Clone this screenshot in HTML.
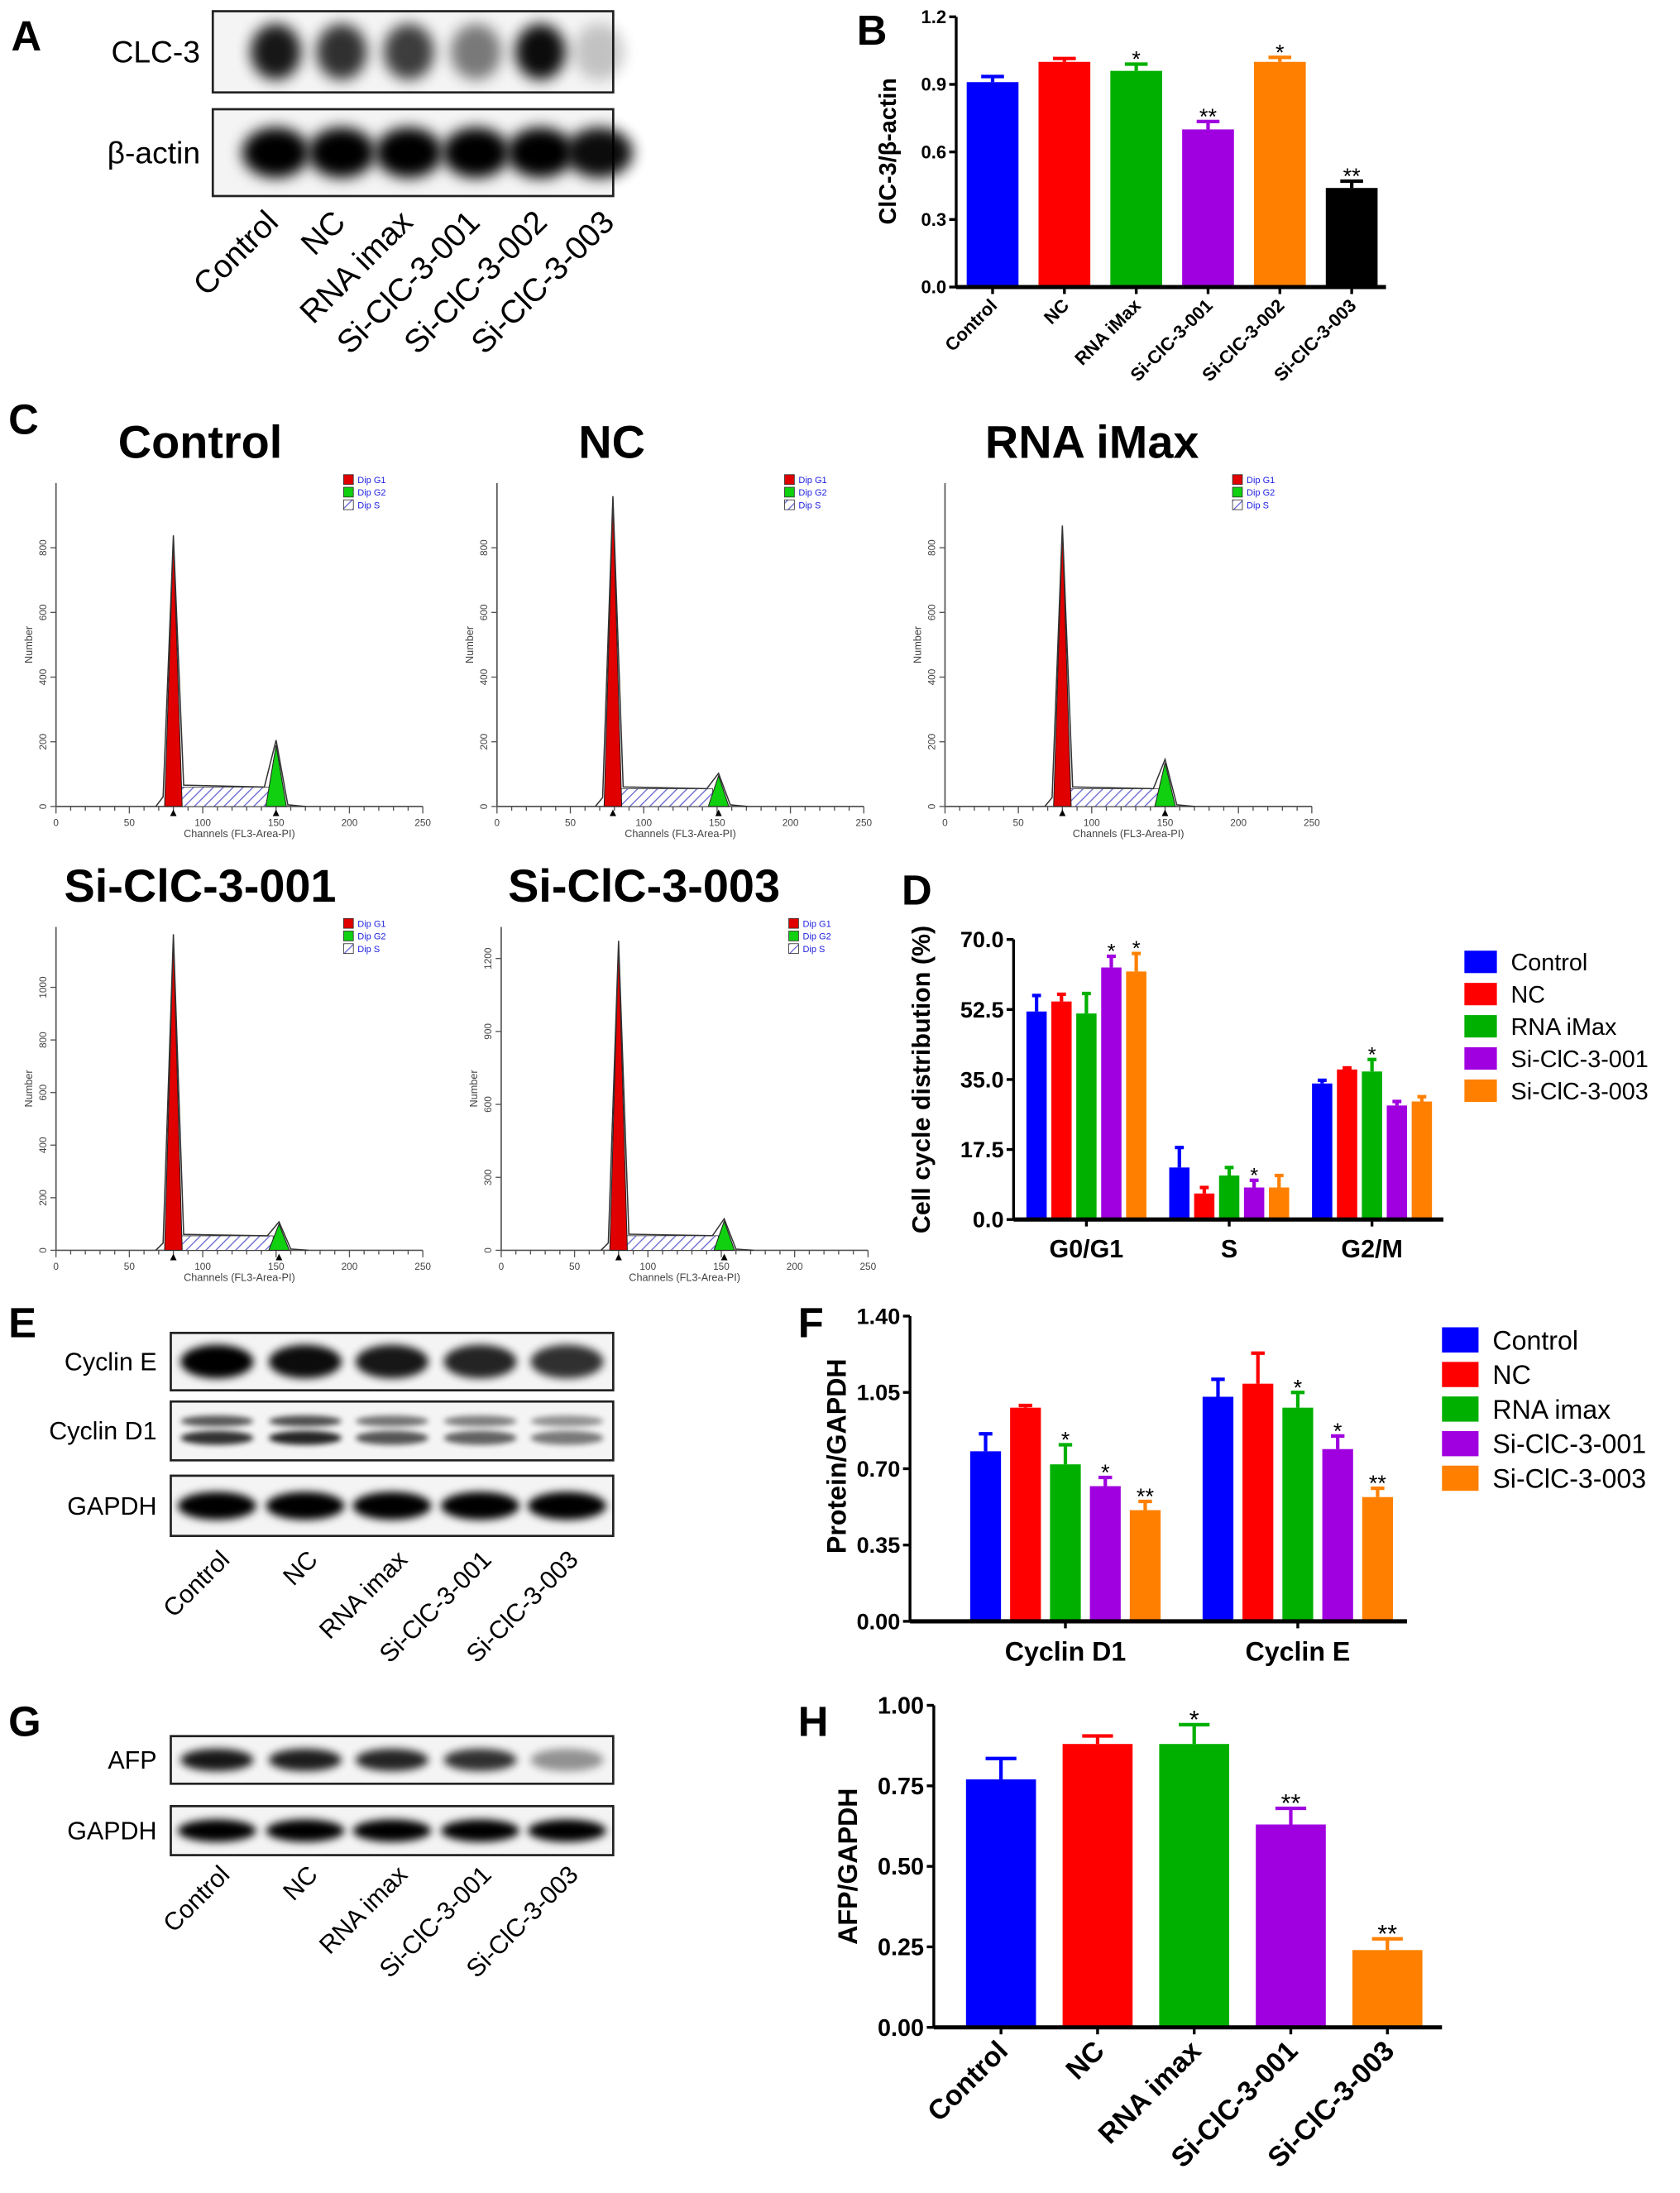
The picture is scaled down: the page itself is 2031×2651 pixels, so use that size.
<!DOCTYPE html>
<html><head><meta charset="utf-8">
<style>
html,body{margin:0;padding:0;background:#fff;}
svg{display:block;font-family:"Liberation Sans",Arial,sans-serif;}
</style></head>
<body>
<svg id="fig" width="2031" height="2651" viewBox="0 0 1200 1566.3" xmlns="http://www.w3.org/2000/svg">
<defs>
<filter id="blur3" x="-50%" y="-50%" width="200%" height="200%"><feGaussianBlur stdDeviation="3"/></filter>
<filter id="blur2" x="-50%" y="-50%" width="200%" height="200%"><feGaussianBlur stdDeviation="2"/></filter>
<filter id="blur5" x="-50%" y="-50%" width="200%" height="200%"><feGaussianBlur stdDeviation="5"/></filter>
<pattern id="hatch" width="5" height="5" patternUnits="userSpaceOnUse" patternTransform="rotate(45)"><rect width="5" height="5" fill="#fff"/><line x1="0" y1="0" x2="0" y2="5" stroke="#6a6ad0" stroke-width="1.6"/></pattern>
</defs>
</svg>
<script>
// ---------- DATA ----------
const bCategories = ['Control','NC','RNA iMax','Si-ClC-3-001','Si-ClC-3-002','Si-ClC-3-003'];
const bValues = [0.91,1.00,0.96,0.70,1.00,0.44];
const bErrors = [0.025,0.015,0.03,0.035,0.02,0.03];
const bStars = ['','','*','**','*','**'];
const bTicks = [0,0.3,0.6,0.9,1.2];

const dGroups = ['G0/G1','S','G2/M'];
const dSeries = ['Control','NC','RNA iMax','Si-ClC-3-001','Si-ClC-3-003'];
const dControl = [52,13,34];
const dNC = [54.5,6.5,37.5];
const dIMax = [51.5,11,37];
const dSi001 = [63,8,28.5];
const dSi003 = [62,8,29.5];
const dErrControl = [4,5,0.8];
const dErrNC = [1.8,1.5,0.4];
const dErrIMax = [5,2,3];
const dErrSi001 = [2.8,1.8,1];
const dErrSi003 = [4.5,3,1.2];
const dStars = [['','','','*','*'],['','','','*',''],['','','*','','']];
const dTicks = [0,17.5,35,52.5,70];

const fGroups = ['Cyclin D1','Cyclin E'];
const fSeries = ['Control','NC','RNA imax','Si-ClC-3-001','Si-ClC-3-003'];
const fControl = [0.78,1.03];
const fNC = [0.98,1.09];
const fIMax = [0.72,0.98];
const fSi001 = [0.62,0.79];
const fSi003 = [0.51,0.57];
const fErrControl = [0.08,0.08];
const fErrNC = [0.01,0.14];
const fErrIMax = [0.09,0.07];
const fErrSi001 = [0.04,0.06];
const fErrSi003 = [0.04,0.04];
const fStars = [['','','*','*','**'],['','','*','*','**']];
const fTicks = [0,0.35,0.70,1.05,1.40];

const hCategories = ['Control','NC','RNA imax','Si-ClC-3-001','Si-ClC-3-003'];
const hValues = [0.77,0.88,0.88,0.63,0.24];
const hErrors = [0.065,0.025,0.06,0.05,0.035];
const hStars = ['','','*','**','**'];
const hTicks = [0,0.25,0.5,0.75,1.0];

const histTitles = ['Control','NC','RNA iMax','Si-ClC-3-001','Si-ClC-3-003'];
const histG1Channel = [80,79,80,80,80];
const histG1Count = [830,950,860,1190,1260];
const histG2Channel = [150,151,150,152,152];
const histG2Count = [190,95,135,100,120];
const histSCount = [60,55,55,55,60];
const histYTicks = [[0,200,400,600,800],[0,200,400,600,800],[0,200,400,600,800],[0,200,400,600,800,1000],[0,300,600,900,1200]];
const histYMax = [1000,1000,1000,1230,1330];
const histXTicks = [0,50,100,150,200,250];

const colors5 = ['#0000ff','#ff0000','#00b000','#a000e0','#ff8000'];
const colors6 = ['#0000ff','#ff0000','#00b000','#a000e0','#ff8000','#000000'];

// ---------- HELPERS ----------
const NS='http://www.w3.org/2000/svg';
const svg=document.getElementById('fig');
function mk(tag, attrs, parent, name){
  const el=document.createElementNS(NS,tag);
  for(const k in attrs) el.setAttribute(k,attrs[k]);
  
  
  (parent||svg).appendChild(el);
  return el;
}
function txt(s, attrs, parent, name){ const t=mk('text',attrs,parent,name); t.textContent=s; return t; }
function group(name){ return mk('g',{},svg,name); }

function panelLabel(s,x,y){ txt(s,{x:x,y:y,'font-size':30,'font-weight':'bold'},svg,'panel-label-'+s.toLowerCase()); }

panelLabel('A',8,36); panelLabel('B',612,32); panelLabel('C',6,310);
panelLabel('D',644,646); panelLabel('E',6,955); panelLabel('F',570,955);
panelLabel('G',6,1240); panelLabel('H',570,1240);

// ---------- BLOTS ----------
function blotBox(g,x,y,w,h,label,lx,fs,lanes,intens,bw,bh,name,filt){
  mk('rect',{x:x,y:y,width:w,height:h,fill:'#f4f4f4',stroke:'#222','stroke-width':1.6},g,name+'-box');
  lanes.forEach((cx,i)=>{
    mk('ellipse',{cx:cx,cy:y+h/2,rx:bw,ry:bh,fill:'#000',opacity:intens[i],filter:filt||'url(#blur3)'},g,name+'-band-'+(i+1));
  });
  txt(label,{x:lx,y:y+h/2+fs*0.35,'font-size':fs,'text-anchor':'end'},g,name+'-label');
}
function laneLabels(g,labels,xs,yEnd,fs,bold,name){
  labels.forEach((s,i)=>{
    txt(s,{x:xs[i],y:yEnd,'font-size':fs,'font-weight':bold?'bold':'normal','text-anchor':'end',transform:`rotate(-45 ${xs[i]} ${yEnd})`},g,name+'-'+(i+1));
  });
}
const gA=group('panel-a-blot');
const aLanes=[197,244,292,340,386,428];
blotBox(gA,152,8,286,58,'CLC-3',143,22,aLanes,[0.9,0.8,0.75,0.5,0.95,0.2],18,20,'clc3-blot','url(#blur5)');
blotBox(gA,152,78,286,62,'β-actin',143,22,aLanes,[1,1,1,1,1,0.95],24,18,'actin-blot','url(#blur5)');
laneLabels(gA,['Control','NC','RNA imax','Si-ClC-3-001','Si-ClC-3-002','Si-ClC-3-003'],[200,248,296,344,392,440],160,23,false,'a-lane-label');

const gE=group('panel-e-blot');
const eLanes=[155,218,280,343,405];
blotBox(gE,122,952,316,41,'Cyclin E',112,18,eLanes,[1,0.95,0.9,0.85,0.8],26,12,'cycline-blot');
mk('rect',{x:122,y:1001,width:316,height:42,fill:'#f4f4f4',stroke:'#222','stroke-width':1.6},gE,'cyclind1-blot-box');
eLanes.forEach((cx,i)=>{
  const a=[0.8,0.85,0.65,0.6,0.5][i];
  mk('ellipse',{cx:cx,cy:1015,rx:26,ry:4,fill:'#000',opacity:a*0.8,filter:'url(#blur2)'},gE,'cyclind1-band-upper-'+(i+1));
  mk('ellipse',{cx:cx,cy:1027,rx:26,ry:5,fill:'#000',opacity:a,filter:'url(#blur2)'},gE,'cyclind1-band-lower-'+(i+1));
});
txt('Cyclin D1',{x:112,y:1028,'font-size':18,'text-anchor':'end'},gE,'cyclind1-blot-label');
blotBox(gE,122,1054,316,43,'GAPDH',112,18,eLanes,[1,1,1,1,1],28,10,'gapdh-e-blot');
laneLabels(gE,['Control','NC','RNA imax','Si-ClC-3-001','Si-ClC-3-003'],[165,228,292,352,414],1115,18,false,'e-lane-label');

const gG=group('panel-g-blot');
blotBox(gG,122,1240,316,34,'AFP',112,18,eLanes,[0.9,0.88,0.85,0.8,0.4],26,8,'afp-blot');
blotBox(gG,122,1290,316,35,'GAPDH',112,18,eLanes,[1,1,1,1,1],28,8,'gapdh-g-blot');
laneLabels(gG,['Control','NC','RNA imax','Si-ClC-3-001','Si-ClC-3-003'],[165,228,292,352,414],1340,18,false,'g-lane-label');

// ---------- BAR CHART HELPERS ----------
function axisY(g,ax,yTop,yBase,max,ticks,fmt,fs,name){
  const sy=v=>yBase-(v/max)*(yBase-yTop);
  mk('line',{x1:ax,y1:yTop,x2:ax,y2:yBase,stroke:'#000','stroke-width':2},g,name+'-y-axis');
  ticks.forEach(t=>{
    mk('line',{x1:ax-5,y1:sy(t),x2:ax,y2:sy(t),stroke:'#000','stroke-width':2},g,name+'-y-tick');
    txt(fmt(t),{x:ax-7,y:sy(t)+fs*0.35,'font-size':fs,'font-weight':'bold','text-anchor':'end'},g,name+'-y-tick-label');
  });
  return sy;
}
function bar(g,cx,w,v,e,sy,col,star,name,starFs){
  const yb=sy(0), yt=sy(v), ye=sy(v+e);
  mk('rect',{x:cx-w/2,y:yt,width:w,height:yb-yt,fill:col},g,name);
  mk('line',{x1:cx,y1:yt,x2:cx,y2:ye,stroke:col,'stroke-width':2.5},g,name+'-error-bar');
  mk('line',{x1:cx-w*0.22,y1:ye,x2:cx+w*0.22,y2:ye,stroke:col,'stroke-width':2.5},g,name+'-error-cap');
  if(star) txt(star,{x:cx,y:ye-3+starFs*0.3,'font-size':starFs,'text-anchor':'middle'},g,name+'-significance');
}

// ---------- PANEL B ----------
(function(){
  const g=group('panel-b-chart');
  const ax=683,yTop=12,yBase=205;
  const sy=axisY(g,ax,yTop,yBase,1.2,bTicks,t=>t.toFixed(1),13,'b');
  const x0=709, step=51.3, w=37;
  bCategories.forEach((c,i)=>{
    const cx=x0+i*step;
    bar(g,cx,w,bValues[i],bErrors[i],sy,colors6[i],bStars[i],'b-bar-'+(i+1),16);
    mk('line',{x1:cx,y1:yBase,x2:cx,y2:yBase+5,stroke:'#000','stroke-width':2},g,'b-x-tick');
    txt(c,{x:cx+4,y:yBase+14,'font-size':13,'font-weight':'bold','text-anchor':'end',transform:`rotate(-45 ${cx+4} ${yBase+14})`},g,'b-x-tick-label');
  });
  mk('line',{x1:ax,y1:yBase,x2:990,y2:yBase,stroke:'#000','stroke-width':3},g,'b-x-axis');
  txt('ClC-3/β-actin',{x:640,y:108,'font-size':17,'font-weight':'bold','text-anchor':'middle',transform:'rotate(-90 640 108)'},g,'b-y-axis-title');
})();

// ---------- GROUPED CHART ----------
function grouped(g,cfg){
  const sy=axisY(g,cfg.ax,cfg.yTop,cfg.yBase,cfg.max,cfg.ticks,cfg.fmt,cfg.fs,cfg.name);
  cfg.groups.forEach((gr,gi)=>{
    const gc=cfg.g0+gi*cfg.gStep;
    cfg.series.forEach((s,si)=>{
      const cx=gc+(si-2)*cfg.step;
      bar(g,cx,cfg.w,cfg.vals[si][gi],cfg.errs[si][gi],sy,colors5[si],cfg.stars[gi][si],cfg.name+'-bar-'+gr.replace(/[^A-Za-z0-9]/g,'').toLowerCase()+'-'+(si+1),cfg.starFs);
    });
    mk('line',{x1:gc,y1:cfg.yBase,x2:gc,y2:cfg.yBase+5,stroke:'#000','stroke-width':2},g,cfg.name+'-x-tick');
    txt(gr,{x:gc,y:cfg.yBase+cfg.labDy,'font-size':cfg.labFs,'font-weight':'bold','text-anchor':'middle'},g,cfg.name+'-x-tick-label');
  });
  mk('line',{x1:cfg.ax,y1:cfg.yBase,x2:cfg.xEnd,y2:cfg.yBase,stroke:'#000','stroke-width':3},g,cfg.name+'-x-axis');
  const lg=mk('g',{},g,cfg.name+'-legend');
  cfg.series.forEach((s,si)=>{
    const y=cfg.legY+si*cfg.legStep;
    mk('rect',{x:cfg.legX,y:y-cfg.legSq/2,width:cfg.legSq*1.45,height:cfg.legSq,fill:colors5[si]},lg,'legend-swatch-'+(si+1));
    txt(s,{x:cfg.legX+cfg.legSq*1.45+10,y:y+cfg.legFs*0.36,'font-size':cfg.legFs},lg,'legend-entry-'+(si+1));
  });
  txt(cfg.title,{x:cfg.tx,y:cfg.ty,'font-size':cfg.tFs,'font-weight':'bold','text-anchor':'middle',transform:`rotate(-90 ${cfg.tx} ${cfg.ty})`},g,cfg.name+'-y-axis-title');
}
grouped(group('panel-d-chart'),{name:'d',ax:724,yTop:671,yBase:871,max:70,ticks:dTicks,fmt:t=>t.toFixed(1),fs:16,
  groups:dGroups,series:dSeries,vals:[dControl,dNC,dIMax,dSi001,dSi003],errs:[dErrControl,dErrNC,dErrIMax,dErrSi001,dErrSi003],stars:dStars,
  g0:776,gStep:102,step:17.8,w:14.5,starFs:15,labDy:27,labFs:18,xEnd:1031,
  legX:1046,legY:687,legStep:23,legSq:16,legFs:17,title:'Cell cycle distribution (%)',tx:664,ty:771,tFs:18});
grouped(group('panel-f-chart'),{name:'f',ax:650,yTop:940,yBase:1158,max:1.4,ticks:fTicks,fmt:t=>t.toFixed(2),fs:16,
  groups:fGroups,series:fSeries,vals:[fControl,fNC,fIMax,fSi001,fSi003],errs:[fErrControl,fErrNC,fErrIMax,fErrSi001,fErrSi003],stars:fStars,
  g0:761,gStep:166,step:28.5,w:22,starFs:16,labDy:28,labFs:19,xEnd:1005,
  legX:1030,legY:957,legStep:24.7,legSq:18,legFs:19,title:'Protein/GAPDH',tx:604,ty:1040,tFs:19});

// ---------- PANEL H ----------
(function(){
  const g=group('panel-h-chart');
  const ax=667,yTop=1218,yBase=1448;
  const sy=axisY(g,ax,yTop,yBase,1.0,hTicks,t=>t.toFixed(2),17,'h');
  const x0=715, step=69, w=50;
  hCategories.forEach((c,i)=>{
    const cx=x0+i*step;
    bar(g,cx,w,hValues[i],hErrors[i],sy,colors5[i],hStars[i],'h-bar-'+(i+1),18);
    mk('line',{x1:cx,y1:yBase,x2:cx,y2:yBase+5,stroke:'#000','stroke-width':2},g,'h-x-tick');
    txt(c,{x:cx+6,y:yBase+18,'font-size':20,'font-weight':'bold','text-anchor':'end',transform:`rotate(-45 ${cx+6} ${yBase+18})`},g,'h-x-tick-label');
  });
  mk('line',{x1:ax,y1:yBase,x2:1030,y2:yBase,stroke:'#000','stroke-width':3},g,'h-x-axis');
  txt('AFP/GAPDH',{x:612,y:1333,'font-size':19,'font-weight':'bold','text-anchor':'middle',transform:'rotate(-90 612 1333)'},g,'h-y-axis-title');
})();

// ---------- HISTOGRAMS (panel C) ----------
const histOffX=[0,315,635,0,318];
const histOffY=[0,0,0,317,317];
const histTitleX=[143,437,780,143,460];
histTitles.forEach((t,i)=>{
  const g=group('histogram-'+t.toLowerCase().replace(/[^a-z0-9]+/g,'-'));
  const ox=40+histOffX[i], base=576+histOffY[i], top=345+histOffY[i];
  const sx=c=>ox+c*1.048;
  const sy=v=>base-(v/histYMax[i])*(base-top);
  txt(t,{x:histTitleX[i],y:327+histOffY[i],'font-size':33,'font-weight':'bold','text-anchor':'middle'},g,'histogram-title');
  mk('line',{x1:ox,y1:top,x2:ox,y2:base,stroke:'#555','stroke-width':1},g,'histogram-y-axis');
  mk('line',{x1:ox,y1:base,x2:sx(250),y2:base,stroke:'#555','stroke-width':1},g,'histogram-x-axis');
  for(let c=0;c<=250;c+=10){
    mk('line',{x1:sx(c),y1:base,x2:sx(c),y2:base+(c%50===0?5:3),stroke:'#555','stroke-width':0.8},g,'histogram-x-tick');
  }
  histXTicks.forEach(c=>txt(String(c),{x:sx(c),y:base+14,'font-size':7,fill:'#444','text-anchor':'middle'},g,'histogram-x-tick-label'));
  histYTicks[i].forEach(v=>{
    mk('line',{x1:ox-4,y1:sy(v),x2:ox,y2:sy(v),stroke:'#555','stroke-width':0.8},g,'histogram-y-tick');
    txt(String(v),{x:ox-7,y:sy(v),'font-size':7,fill:'#444','text-anchor':'middle',transform:`rotate(-90 ${ox-7} ${sy(v)})`},g,'histogram-y-tick-label');
  });
  txt('Channels (FL3-Area-PI)',{x:sx(125),y:base+22,'font-size':7.5,fill:'#444','text-anchor':'middle'},g,'histogram-x-axis-title');
  txt('Number',{x:ox-17,y:(top+base)/2,'font-size':7.5,fill:'#444','text-anchor':'middle',transform:`rotate(-90 ${ox-17} ${(top+base)/2})`},g,'histogram-y-axis-title');
  const g1=histG1Channel[i], g2=histG2Channel[i], s=histSCount[i];
  mk('polygon',{points:`${sx(g1+5)},${base} ${sx(g1+5)},${sy(s)} ${sx(g2-4)},${sy(s)} ${sx(g2-4)},${base}`,fill:'url(#hatch)',stroke:'#444','stroke-width':0.5},g,'histogram-s-phase');
  mk('polygon',{points:`${sx(g1-6)},${base} ${sx(g1)},${sy(histG1Count[i])} ${sx(g1+6)},${base}`,fill:'#e00000',stroke:'#222','stroke-width':0.6},g,'histogram-g1-peak');
  mk('polygon',{points:`${sx(g2-7)},${base} ${sx(g2)},${sy(histG2Count[i])} ${sx(g2+7)},${base}`,fill:'#10d010',stroke:'#222','stroke-width':0.6},g,'histogram-g2-peak');
  mk('polyline',{points:`${sx(g1-12)},${base} ${sx(g1-7)},${sy(s*0.5)} ${sx(g1)},${sy(histG1Count[i]*1.01)} ${sx(g1+7)},${sy(s*1.1)} ${sx(g2-8)},${sy(s)} ${sx(g2)},${sy(histG2Count[i]*1.08)} ${sx(g2+8)},${sy(5)} ${sx(g2+20)},${base}`,fill:'none',stroke:'#333','stroke-width':0.9},g,'histogram-outline');
  txt('▲',{x:sx(g1),y:base+7,'font-size':8,'text-anchor':'middle'},g,'histogram-g1-marker');
  txt('▲',{x:sx(g2),y:base+7,'font-size':8,'text-anchor':'middle'},g,'histogram-g2-marker');
  const lx=sx(196), ly=top-6;
  const lg=mk('g',{},g,'histogram-legend');
  [['#e00000','Dip G1'],['#10d010','Dip G2'],['url(#hatch)','Dip S']].forEach((e,k)=>{
    mk('rect',{x:lx,y:ly+k*9,width:7,height:7,fill:e[0],stroke:'#333','stroke-width':0.5},lg,'histogram-legend-swatch');
    txt(e[1],{x:lx+10,y:ly+k*9+6,'font-size':6.5,fill:'#2020e0'},lg,'histogram-legend-entry');
  });
});
</script>
</body></html>
